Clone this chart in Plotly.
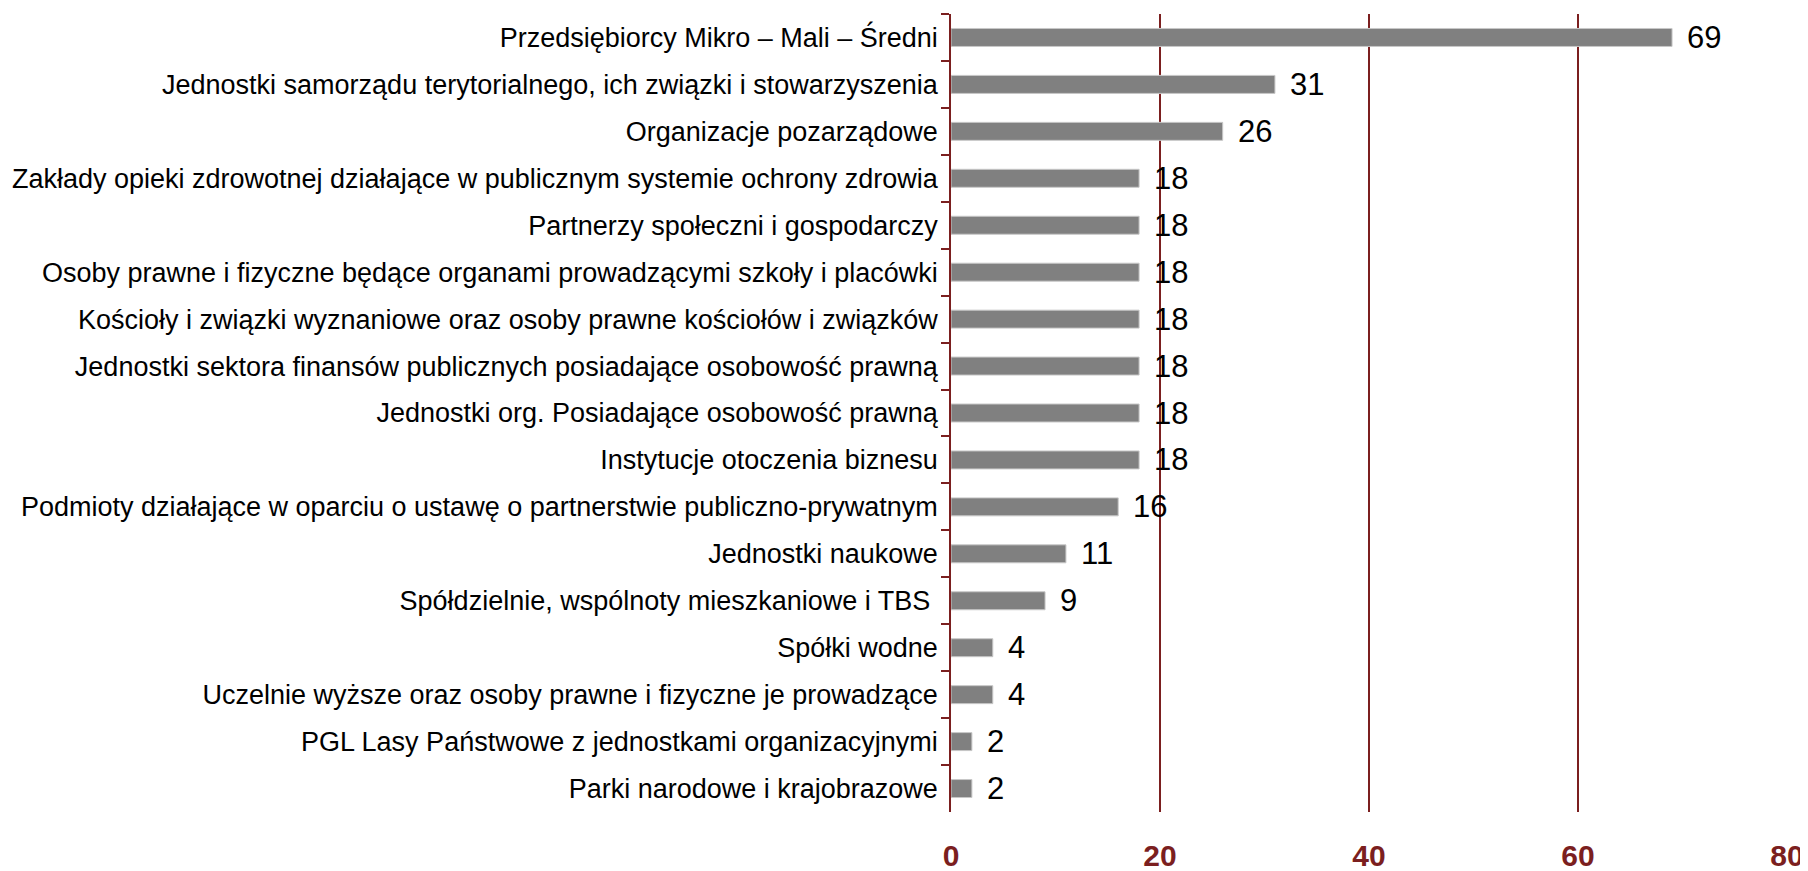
import plotly.graph_objects as go

categories = [
    "Przedsiębiorcy Mikro – Mali – Średni",
    "Jednostki samorządu terytorialnego, ich związki i stowarzyszenia",
    "Organizacje pozarządowe",
    "Zakłady opieki zdrowotnej działające w publicznym systemie ochrony zdrowia",
    "Partnerzy społeczni i gospodarczy",
    "Osoby prawne i fizyczne będące organami prowadzącymi szkoły i placówki",
    "Kościoły i związki wyznaniowe oraz osoby prawne kościołów i związków",
    "Jednostki sektora finansów publicznych posiadające osobowość prawną",
    "Jednostki org. Posiadające osobowość prawną",
    "Instytucje otoczenia biznesu",
    "Podmioty działające w oparciu o ustawę o partnerstwie publiczno-prywatnym",
    "Jednostki naukowe",
    "Spółdzielnie, wspólnoty mieszkaniowe i TBS ",
    "Spółki wodne",
    "Uczelnie wyższe oraz osoby prawne i fizyczne je prowadzące",
    "PGL Lasy Państwowe z jednostkami organizacyjnymi",
    "Parki narodowe i krajobrazowe",
]
values = [69, 31, 26, 18, 18, 18, 18, 18, 18, 18, 16, 11, 9, 4, 4, 2, 2]
x_ticks = [0, 20, 40, 60, 80]

DARK_RED = "#7b1f1f"
FONT = "Liberation Sans, Arial, sans-serif"

fig = go.Figure()
fig.add_trace(go.Bar(
    x=values,
    y=categories,
    orientation="h",
    marker=dict(color="#808080", line=dict(color="#c8c8c8", width=1)),
    hoverinfo="x+y",
))

for v, c in zip(values, categories):
    fig.add_annotation(
        x=v, y=c, text=str(v), showarrow=False,
        xanchor="left", yanchor="middle", xshift=13,
        font=dict(family=FONT, size=31, color="#000000"),
    )

# page body has an 8px default margin, so the figure is sized 8px smaller
fig.update_layout(
    width=1800, height=863,
    margin=dict(l=943, r=21, t=6, b=59),
    paper_bgcolor="white", plot_bgcolor="white",
    bargap=0.617,
    showlegend=False,
    font=dict(family=FONT),
)

fig.update_xaxes(
    range=[0, 80],
    tickvals=x_ticks,
    ticktext=[f"<b>{t}</b>" for t in x_ticks],
    showgrid=True, gridcolor=DARK_RED, gridwidth=2,
    zeroline=False, showline=False, ticks="",
    tickfont=dict(family=FONT, size=30, color=DARK_RED),
    ticklabelstandoff=23,
    automargin=False,
)
fig.update_yaxes(
    autorange="reversed",
    type="category",
    showgrid=False, zeroline=False,
    showline=True, linecolor=DARK_RED, linewidth=1.5,
    ticks="outside", tickson="boundaries", ticklen=8,
    tickcolor=DARK_RED, tickwidth=1.5,
    tickfont=dict(family=FONT, size=27, color="#000000"),
    ticklabelstandoff=6,
    automargin=False,
)

fig.write_html("out.html")
